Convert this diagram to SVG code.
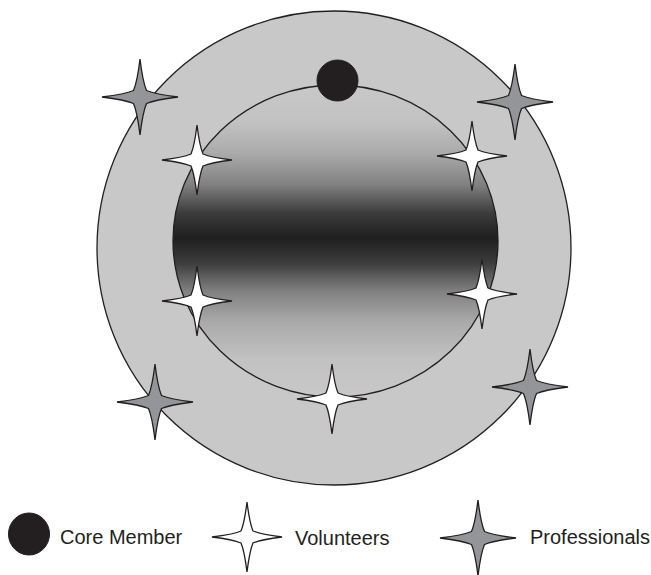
<svg xmlns="http://www.w3.org/2000/svg" width="651" height="575" viewBox="0 0 651 575">
  <style>
    .ring { fill: #c8c8c8; stroke: #231f20; stroke-width: 1.3; }
    .core { fill: #231f20; stroke: #231f20; stroke-width: 1; }
    .vol { fill: #ffffff; stroke: #231f20; stroke-width: 1.3; stroke-linejoin: miter; }
    .pro { fill: #939598; stroke: #231f20; stroke-width: 1.3; stroke-linejoin: miter; }
    .label { font-family: "Liberation Sans", Arial, sans-serif; font-size: 20px; fill: #231f20; }
  </style>
  <defs>
    <linearGradient id="innerGrad" x1="0" y1="0" x2="0" y2="1">
      <stop offset="0" stop-color="#c8c8c8"/>
      <stop offset="0.12" stop-color="#c2c2c2"/>
      <stop offset="0.22" stop-color="#aaaaaa"/>
      <stop offset="0.32" stop-color="#808080"/>
      <stop offset="0.41" stop-color="#3c3c3c"/>
      <stop offset="0.49" stop-color="#1f1f1f"/>
      <stop offset="0.57" stop-color="#3c3c3c"/>
      <stop offset="0.66" stop-color="#808080"/>
      <stop offset="0.76" stop-color="#aaaaaa"/>
      <stop offset="0.88" stop-color="#c2c2c2"/>
      <stop offset="1" stop-color="#c8c8c8"/>
    </linearGradient>
    <path id="star38" d="M0,-38 Q2.8,-15 6.5,-6.5 Q15,-2.8 38,0 Q15,2.8 6.5,6.5 Q2.8,15 0,38 Q-2.8,15 -6.5,6.5 Q-15,2.8 -38,0 Q-15,-2.8 -6.5,-6.5 Q-2.8,-15 0,-38 Z"/>
    <path id="star35" d="M0,-35 Q2.6,-14 6,-6 Q14,-2.6 35,0 Q14,2.6 6,6 Q2.6,14 0,35 Q-2.6,14 -6,6 Q-14,2.6 -35,0 Q-14,-2.6 -6,-6 Q-2.6,-14 0,-35 Z"/>
  </defs>

  <g id="outer-ring">
    <circle class="ring" cx="334" cy="248" r="237"/>
  </g>
  <g id="inner-core-area">
    <ellipse cx="335.5" cy="241" rx="162.5" ry="156" fill="url(#innerGrad)" stroke="#231f20" stroke-width="1.3"/>
  </g>
  <g id="core-member">
    <circle class="core" cx="337.5" cy="80.5" r="20.5"/>
  </g>

  <g id="professionals">
    <use href="#star38" class="pro" x="140" y="97"/>
    <use href="#star38" class="pro" x="515" y="102"/>
    <use href="#star38" class="pro" x="155" y="402"/>
    <use href="#star38" class="pro" x="530" y="387"/>
  </g>
  <g id="volunteers">
    <use href="#star35" class="vol" x="197" y="160"/>
    <use href="#star35" class="vol" x="472" y="156"/>
    <use href="#star35" class="vol" x="197" y="301"/>
    <use href="#star35" class="vol" x="482" y="294"/>
    <use href="#star35" class="vol" x="332" y="399"/>
  </g>

  <g id="legend-core">
    <ellipse class="core" cx="29" cy="534" rx="20.5" ry="21"/>
    <text class="label" x="60" y="544">Core Member</text>
  </g>
  <g id="legend-volunteers">
    <use href="#star35" class="vol" x="247" y="537"/>
    <text class="label" x="295" y="545">Volunteers</text>
  </g>
  <g id="legend-professionals">
    <use href="#star38" class="pro" x="478" y="538"/>
    <text class="label" x="530" y="544">Professionals</text>
  </g>
</svg>
